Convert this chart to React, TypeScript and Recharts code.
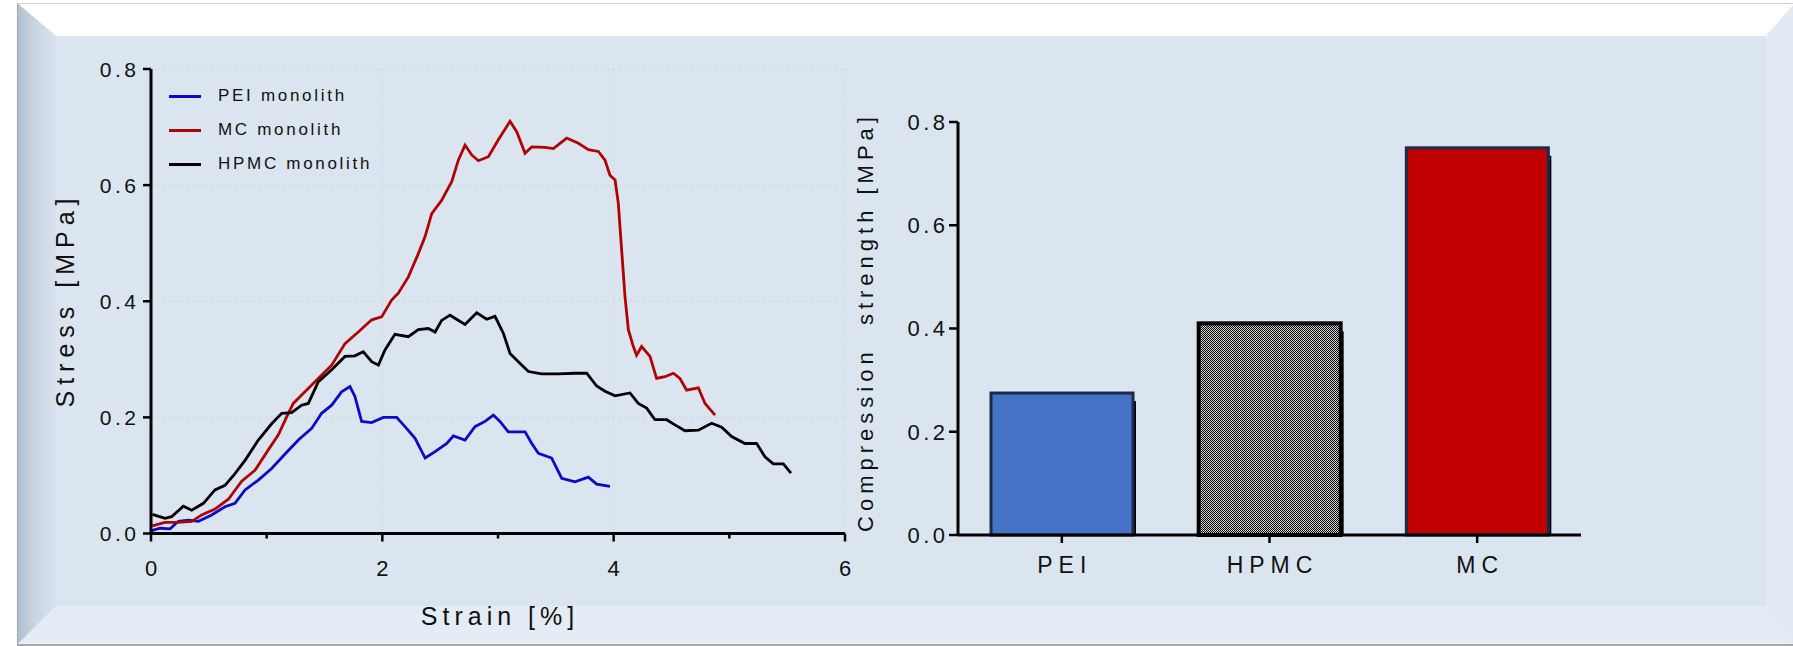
import React from 'react';
import { LineChart, Line, XAxis, YAxis, CartesianGrid, BarChart, Bar } from 'recharts';

const FONT = "'Liberation Sans', Arial, sans-serif";

// stress-strain curves
const peiStrain = [0.006, 0.078, 0.165, 0.236, 0.323, 0.41, 0.524, 0.64, 0.726, 0.813, 0.928, 1.043, 1.159, 1.274, 1.389, 1.475, 1.562, 1.648, 1.72, 1.763, 1.821, 1.908, 2.008, 2.124, 2.196, 2.283, 2.37, 2.456, 2.557, 2.614, 2.715, 2.801, 2.888, 2.96, 3.017, 3.089, 3.234, 3.292, 3.349, 3.464, 3.551, 3.666, 3.781, 3.853, 3.968];
const peiStress = [0.005, 0.009, 0.008, 0.021, 0.023, 0.021, 0.032, 0.046, 0.052, 0.075, 0.092, 0.112, 0.137, 0.161, 0.181, 0.207, 0.221, 0.244, 0.253, 0.236, 0.193, 0.191, 0.2, 0.2, 0.184, 0.164, 0.13, 0.141, 0.155, 0.168, 0.161, 0.184, 0.193, 0.204, 0.193, 0.175, 0.175, 0.155, 0.138, 0.13, 0.095, 0.089, 0.097, 0.085, 0.081];

const mcStrain = [0.012, 0.121, 0.236, 0.352, 0.438, 0.553, 0.669, 0.784, 0.899, 1.014, 1.101, 1.173, 1.23, 1.331, 1.446, 1.562, 1.677, 1.792, 1.908, 1.994, 2.08, 2.138, 2.225, 2.311, 2.369, 2.427, 2.513, 2.6, 2.657, 2.715, 2.773, 2.83, 2.917, 3.003, 3.104, 3.162, 3.234, 3.292, 3.407, 3.479, 3.594, 3.695, 3.781, 3.868, 3.925, 3.968, 4.012, 4.04, 4.069, 4.098, 4.127, 4.17, 4.198, 4.242, 4.314, 4.371, 4.443, 4.516, 4.573, 4.631, 4.732, 4.79, 4.876];
const mcStress = [0.013, 0.019, 0.019, 0.021, 0.032, 0.042, 0.059, 0.09, 0.109, 0.144, 0.17, 0.201, 0.224, 0.244, 0.267, 0.29, 0.327, 0.347, 0.368, 0.373, 0.402, 0.414, 0.442, 0.482, 0.511, 0.551, 0.574, 0.606, 0.643, 0.669, 0.652, 0.642, 0.649, 0.678, 0.71, 0.692, 0.655, 0.666, 0.665, 0.663, 0.681, 0.672, 0.661, 0.658, 0.643, 0.617, 0.609, 0.569, 0.488, 0.408, 0.351, 0.322, 0.307, 0.322, 0.305, 0.267, 0.27, 0.276, 0.267, 0.247, 0.251, 0.224, 0.204];

const hpmcStrain = [0.012, 0.121, 0.179, 0.28, 0.352, 0.453, 0.553, 0.64, 0.726, 0.813, 0.928, 1.043, 1.13, 1.216, 1.302, 1.36, 1.446, 1.562, 1.677, 1.763, 1.835, 1.908, 1.966, 2.023, 2.109, 2.225, 2.311, 2.398, 2.456, 2.513, 2.585, 2.715, 2.816, 2.902, 2.974, 3.046, 3.104, 3.176, 3.263, 3.378, 3.522, 3.666, 3.767, 3.853, 3.925, 4.012, 4.141, 4.213, 4.285, 4.357, 4.458, 4.53, 4.616, 4.732, 4.847, 4.934, 5.02, 5.135, 5.236, 5.308, 5.38, 5.467, 5.533];
const hpmcStress = [0.033, 0.026, 0.029, 0.047, 0.04, 0.052, 0.075, 0.083, 0.103, 0.126, 0.161, 0.189, 0.207, 0.208, 0.221, 0.224, 0.261, 0.282, 0.305, 0.306, 0.313, 0.296, 0.29, 0.316, 0.343, 0.339, 0.351, 0.353, 0.347, 0.367, 0.376, 0.36, 0.38, 0.369, 0.374, 0.345, 0.31, 0.296, 0.279, 0.275, 0.275, 0.276, 0.276, 0.254, 0.245, 0.237, 0.242, 0.224, 0.216, 0.196, 0.196, 0.187, 0.177, 0.178, 0.19, 0.183, 0.167, 0.155, 0.155, 0.132, 0.12, 0.12, 0.104];

const stressTicks = [0, 0.2, 0.4, 0.6, 0.8];
const strainTicks = [0, 1, 2, 3, 4, 5, 6];
const strainLabels = [0, 2, 4, 6];

// compression strength bars
const samples = ['PEI', 'HPMC', 'MC'];
const strength = [0.275, 0.41, 0.75];
const barFills = ['#4472c4', 'url(#hpmcDots)', '#c00000'];
const barStrokes = ['#1c2b4b', '#000000', '#1c2b4b'];

const toPoints = (xs: number[], ys: number[]) => xs.map((x, i) => ({ strain: x, stress: ys[i] }));

const curves = [
  { name: 'PEI monolith', color: '#0a0ac8', data: toPoints(peiStrain, peiStress) },
  { name: 'MC monolith', color: '#b00000', data: toPoints(mcStrain, mcStress) },
  { name: 'HPMC monolith', color: '#000000', data: toPoints(hpmcStrain, hpmcStress) },
];

const barData = samples.map((s, i) => ({ sample: s, value: strength[i] }));

const YTick = ({ x, y, payload, fs, ls }: any) => (
  <text x={x + ls} y={y} dy="0.36em" textAnchor="end" fontSize={fs} letterSpacing={ls} fill="#111" fontFamily={FONT}>
    {Number(payload.value).toFixed(1)}
  </text>
);

// x ticks: long mark + label on even strains, short mark on odd ones
const STRAIN_GAP = 27;
const StrainTick = ({ x, y, payload }: any) => {
  const major = strainLabels.includes(payload.value);
  const y0 = y - STRAIN_GAP;
  return (
    <g>
      <line x1={x} x2={x} y1={y0} y2={y0 + (major ? 8 : 5)} stroke="#000" strokeWidth={2.5} />
      {major && (
        <text x={x} y={y} dy="0.71em" textAnchor="middle" fontSize={22} fill="#111" fontFamily={FONT}>
          {payload.value}
        </text>
      )}
    </g>
  );
};

const SampleTick = ({ x, y, payload }: any) => (
  <text x={x + 3} y={y} dy="0.71em" textAnchor="middle" fontSize={23} letterSpacing={6} fill="#111" fontFamily={FONT}>
    {payload.value}
  </text>
);

const ShadowBar = (props: any) => {
  const { x, y, width, height, index } = props;
  return (
    <g>
      <rect x={x + 3} y={y + 8} width={width} height={Math.max(height - 8, 0)} fill="#000" />
      <rect x={x} y={y} width={width} height={height} fill={barFills[index]} stroke={barStrokes[index]} strokeWidth={index === 1 ? 4 : 3} />
    </g>
  );
};

const title = (text: string, cx: number, cy: number, size: number, ls: number, rotate: boolean) => (
  <div
    style={{
      position: 'absolute', left: cx, top: cy, fontSize: size, letterSpacing: ls, color: '#111',
      whiteSpace: 'pre', fontFamily: FONT, lineHeight: 1,
      transform: `translate(-50%, -50%)${rotate ? ' rotate(-90deg)' : ''}`,
    }}
  >
    {text}
  </div>
);

const FW = 1776;
const FH = 640;

export default function App() {
  return (
    <div style={{ position: 'absolute', left: 0, top: 0, width: 1793, height: 646, background: '#fff', overflow: 'hidden', fontFamily: FONT }}>
      {/* bevelled panel */}
      <div style={{ position: 'absolute', left: 17, top: 3, width: FW, height: FH, background: '#dae5f0', borderTop: '1px solid #d2d2d2', borderLeft: '1px solid #a0aab5', borderBottom: '3px solid #a9a9a9' }}>
        <div style={{ position: 'absolute', inset: 0, clipPath: `polygon(0 0, ${FW}px 0, ${FW - 28}px 32px, 38px 32px)`, background: 'linear-gradient(to bottom, #ffffff 0%, #f5f9fd 45%, #dce6f1 100%)' }} />
        <div style={{ position: 'absolute', left: 0, top: 0, width: 38, height: FH, clipPath: `polygon(0 0, 38px 32px, 38px ${FH - 38}px, 0 ${FH}px)`, background: 'linear-gradient(to right, #b2bfcd 0%, #c9d5e1 45%, #d7e2ee 100%)' }} />
        <div style={{ position: 'absolute', inset: 0, clipPath: `polygon(0 ${FH}px, 38px ${FH - 38}px, ${FW - 28}px ${FH - 38}px, ${FW}px ${FH}px)`, background: 'linear-gradient(to bottom, #dce7f2 0%, #e4edf6 100%)' }} />
        <div style={{ position: 'absolute', inset: 0, clipPath: `polygon(${FW}px 0, ${FW - 28}px 32px, ${FW - 28}px ${FH - 38}px, ${FW}px ${FH}px)`, background: '#e1eaf5' }} />
      </div>

      {/* stress-strain curves */}
      <div style={{ position: 'absolute', left: 0, top: 0 }}>
        <LineChart width={900} height={646} margin={{ top: 69, right: 55, bottom: 82.5, left: 91 }}>
          <CartesianGrid stroke="#cfcfcf" strokeDasharray="2 4" horizontalValues={[0.2, 0.4, 0.6, 0.8]} verticalValues={[2, 4, 6]} />
          <XAxis type="number" dataKey="strain" domain={[0, 6]} ticks={strainTicks} height={30} tickSize={7} tickMargin={STRAIN_GAP - 7}
            axisLine={{ stroke: '#000', strokeWidth: 3 }} tickLine={false} tick={<StrainTick />} allowDuplicatedCategory={false} />
          <YAxis type="number" domain={[0, 0.8]} ticks={stressTicks} width={60} tickSize={8} tickMargin={7}
            axisLine={{ stroke: '#000', strokeWidth: 3 }} tickLine={{ stroke: '#000', strokeWidth: 2.5 }} tick={(p: any) => <YTick {...p} fs={21} ls={3.5} />} />
          {curves.map((c) => (
            <Line key={c.name} data={c.data} dataKey="stress" name={c.name} type="linear" stroke={c.color} strokeWidth={2.8} dot={false} isAnimationActive={false} />
          ))}
        </LineChart>
      </div>

      {/* legend */}
      <div style={{ position: 'absolute', left: 169, top: 79 }}>
        {curves.map((c) => (
          <div key={c.name} style={{ display: 'flex', alignItems: 'center', height: 34 }}>
            <div style={{ width: 32, height: 3, background: c.color }} />
            <div style={{ marginLeft: 17, fontSize: 17, letterSpacing: 2.7, color: '#111' }}>{c.name}</div>
          </div>
        ))}
      </div>

      {title('Stress [MPa]', 65, 300, 25, 6, true)}
      {title('Strain [%]', 500, 616, 25, 5, false)}

      {/* compression strength */}
      <div style={{ position: 'absolute', left: 850, top: 0 }}>
        <BarChart width={800} height={646} data={barData} margin={{ top: 122, right: 69, bottom: 71, left: 48 }}>
          <defs>
            <pattern id="hpmcDots" width="2" height="2" patternUnits="userSpaceOnUse">
              <rect width="2" height="2" fill="#d2d2d2" />
              <rect width="1" height="1" fill="#000" />
              <rect x="1" y="1" width="1" height="1" fill="#000" />
            </pattern>
          </defs>
          <XAxis dataKey="sample" height={40} tickSize={8} tickMargin={14}
            axisLine={{ stroke: '#000', strokeWidth: 3 }} tickLine={{ stroke: '#000', strokeWidth: 2.5 }} tick={<SampleTick />} />
          <YAxis type="number" domain={[0, 0.8]} ticks={stressTicks} width={60} tickSize={9} tickMargin={4}
            axisLine={{ stroke: '#000', strokeWidth: 3 }} tickLine={{ stroke: '#000', strokeWidth: 2.5 }} tick={(p: any) => <YTick {...p} fs={22} ls={3.5} />} />
          <Bar dataKey="value" barSize={142} shape={<ShadowBar />} isAnimationActive={false} />
        </BarChart>
      </div>

      {title('Compression  strength [MPa]', 866, 322, 22, 5, true)}
    </div>
  );
}
